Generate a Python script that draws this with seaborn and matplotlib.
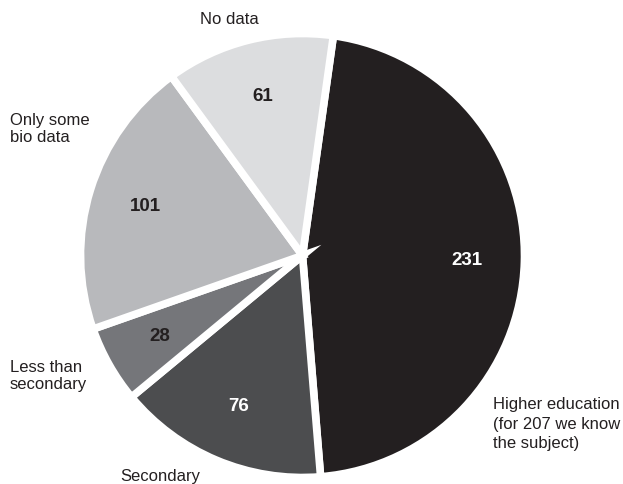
import matplotlib
matplotlib.use("Agg")
import matplotlib.pyplot as plt
import seaborn as sns

categories = ["Higher education", "Secondary", "Less than secondary", "Only some bio data", "No data"]
values = [231, 76, 28, 101, 61]
label_texts = [
    "Higher education\n(for 207 we know\nthe subject)",
    "Secondary",
    "Less than\nsecondary",
    "Only some\nbio data",
    "No data",
]

sns.set_theme(style="white")
plt.rcParams["font.family"] = ["Liberation Sans", "DejaVu Sans"]

colors = ["#231f20", "#4c4d4f", "#75767a", "#b8b9bc", "#dcdddf"]
num_colors = ["white", "white", "#231f20", "#231f20", "#231f20"]

W, H = 623, 484
fig = plt.figure(figsize=(W / 100, H / 100), dpi=100)
cx, cy, r = 302.5, 255.5, 222
ax = fig.add_axes([(cx - r) / W, (H - cy - r) / H, 2 * r / W, 2 * r / H])

total = sum(values)
wedges, texts, autotexts = ax.pie(
    values,
    colors=colors,
    startangle=82,
    counterclock=False,
    radius=1,
    autopct=lambda p: f"{round(p * total / 100):d}",
    pctdistance=0.74,
    wedgeprops=dict(edgecolor="white", linewidth=5.5),
    textprops=dict(fontsize=13.5, fontweight="bold"),
)
for t, c in zip(autotexts, num_colors):
    t.set_color(c)
ax.set_xlim(-1, 1)
ax.set_ylim(-1, 1)
ax.set_aspect("equal")
ax.axis("off")

# category labels (pixel positions: left x, center y)
label_pos = [(493, 424), (120, 477), (10, 376), (10, 129), (200, 19)]
label_ls = [1.4, 1.1, 1.15, 1.15, 1.1]
for txt, (x, y), ls in zip(label_texts, label_pos, label_ls):
    fig.text(x / W, 1 - y / H, txt, ha="left", va="center", fontsize=12,
             color="#231f20", linespacing=ls)

fig.savefig("out.png", dpi=100)
